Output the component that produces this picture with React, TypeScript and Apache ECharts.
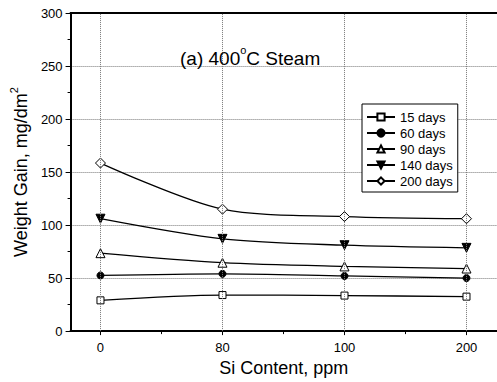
import React, { useEffect, useRef } from "react";
import * as echarts from "echarts";

// Si content levels (ppm), plotted at equal spacing
const siLevels = ["0", "80", "100", "200"];

// Weight gain (mg/dm²) for each exposure time
const days15 = [29, 34, 33.5, 32.5];
const days60 = [52.5, 54, 52, 50];
const days90 = [73.5, 64.5, 61, 59];
const days140 = [106, 87, 81, 78.5];
const days200 = [158.5, 115, 108, 106];

const yTicks = [0, 50, 100, 150, 200, 250, 300];

const FONT = "Liberation Sans, Arial, Helvetica, sans-serif";

const toPoints = (vals: number[]) => vals.map((v, i) => [i, v]);

const hollow = { color: "#ffffff", borderColor: "#000000", borderWidth: 1 };
const filled = { color: "#000000", borderColor: "#000000", borderWidth: 1 };

const gridDots = () => ({ color: "#777777", type: "dotted", width: 1 });

export default function App() {
  const ref = useRef<HTMLDivElement>(null);

  useEffect(() => {
    if (!ref.current) return;
    const chart = echarts.init(ref.current, undefined, { renderer: "svg" });

    const lineBase = {
      type: "line" as const,
      smooth: 0.3,
      z: 3,
      lineStyle: { color: "#000", width: 1.3 },
      emphasis: { disabled: true },
    };

    chart.setOption({
      animation: false,
      backgroundColor: "#ffffff",
      textStyle: { fontFamily: FONT, color: "#000" },
      grid: { left: 70, right: -2, top: 13, bottom: 47 },
      legend: {
        data: ["15 days", "60 days", "90 days", "140 days", "200 days"],
        orient: "vertical",
        left: 362,
        top: 104,
        padding: [6, 5, 4, 4],
        borderColor: "#000",
        borderWidth: 1,
        itemWidth: 28,
        itemHeight: 9,
        itemGap: 2,
        backgroundColor: "#fff",
        textStyle: { fontFamily: FONT, fontSize: 13, color: "#000", lineHeight: 14 },
      },
      xAxis: [
        {
          type: "value",
          min: -0.245,
          max: 3.25,
          position: "bottom",
          name: "Si Content, ppm",
          nameLocation: "middle",
          nameGap: 24,
          nameTextStyle: { fontFamily: FONT, fontSize: 18, color: "#000" },
          axisLine: { show: true, onZero: false, lineStyle: { color: "#000", width: 2 } },
          axisTick: { show: true, customValues: [0, 1, 2, 3], length: 4, lineStyle: { color: "#000" } },
          axisLabel: {
            customValues: [0, 1, 2, 3],
            formatter: (v: number) => siLevels[Math.round(v)] ?? "",
            fontFamily: FONT,
            fontSize: 13,
            color: "#000",
            margin: 10,
          },
          splitLine: { show: false },
        },
        {
          type: "value",
          min: -0.245,
          max: 3.25,
          position: "top",
          axisLine: { show: true, onZero: false, lineStyle: { color: "#000", width: 2 } },
          axisTick: { show: false },
          axisLabel: { show: false },
          splitLine: { show: false },
        },
        {
          type: "value",
          min: -0.245,
          max: 3.25,
          position: "bottom",
          axisLine: { show: false, onZero: false },
          axisTick: { show: true, customValues: [0.5, 1.5, 2.5], length: 3, lineStyle: { color: "#000" } },
          axisLabel: { show: false },
          splitLine: { show: false },
        },
      ],
      yAxis: {
        type: "value",
        min: yTicks[0],
        max: yTicks[yTicks.length - 1],
        interval: 50,
        name: "{a|Weight Gain, mg/dm}{s|2}",
        nameLocation: "middle",
        nameGap: 33,
        nameRotate: 90,
        nameTextStyle: {
          fontFamily: FONT,
          color: "#000",
          rich: {
            a: { fontFamily: FONT, fontSize: 18, color: "#000", lineHeight: 22, verticalAlign: "bottom" },
            s: { fontFamily: FONT, fontSize: 11, color: "#000", lineHeight: 22, verticalAlign: "top" },
          },
        },
        axisLine: { show: true, onZero: false, lineStyle: { color: "#000", width: 2 } },
        axisTick: { show: true, length: 5, lineStyle: { color: "#000" } },
        minorTick: { show: true, splitNumber: 2, length: 3, lineStyle: { color: "#000" } },
        axisLabel: { fontFamily: FONT, fontSize: 13, color: "#000", margin: 8 },
        splitLine: { show: true, lineStyle: gridDots() },
      },
      graphic: [
        {
          type: "text",
          left: 180,
          top: 44,
          z: 10,
          style: {
            text: "{a|(a) 400}{s|o}{a|C Steam}",
            fill: "#000",
            rich: {
              a: { fontFamily: FONT, fontSize: 19, fill: "#000", lineHeight: 24, verticalAlign: "bottom" },
              s: { fontFamily: FONT, fontSize: 11, fill: "#000", lineHeight: 24, verticalAlign: "top" },
            },
          },
        },
      ],
      series: [
        {
          // vertical dotted grid lines at each Si level
          name: "grid-x",
          type: "line",
          data: siLevels.map((_, i) => [i, null]),
          symbol: "none",
          z: 1,
          silent: true,
          lineStyle: { width: 0 },
          markLine: {
            silent: true,
            symbol: "none",
            label: { show: false },
            lineStyle: gridDots(),
            data: siLevels.map((_, i) => ({ xAxis: i })),
          },
        },
        {
          ...lineBase,
          name: "15 days",
          data: toPoints(days15),
          symbol: "rect",
          symbolSize: 7,
          itemStyle: hollow,
        },
        {
          ...lineBase,
          name: "60 days",
          data: toPoints(days60),
          symbol: "circle",
          symbolSize: 7,
          itemStyle: filled,
        },
        {
          ...lineBase,
          name: "90 days",
          data: toPoints(days90),
          symbol: "triangle",
          symbolSize: 9,
          itemStyle: hollow,
        },
        {
          ...lineBase,
          name: "140 days",
          data: toPoints(days140),
          symbol: "triangle",
          symbolRotate: 180,
          symbolSize: 9,
          itemStyle: filled,
        },
        {
          ...lineBase,
          name: "200 days",
          data: toPoints(days200),
          symbol: "diamond",
          symbolSize: 10,
          itemStyle: hollow,
        },
      ],
    });

    return () => chart.dispose();
  }, []);

  return (
    <div
      ref={ref}
      style={{ position: "absolute", left: 0, top: 0, width: 497, height: 382, background: "#fff" }}
    />
  );
}
